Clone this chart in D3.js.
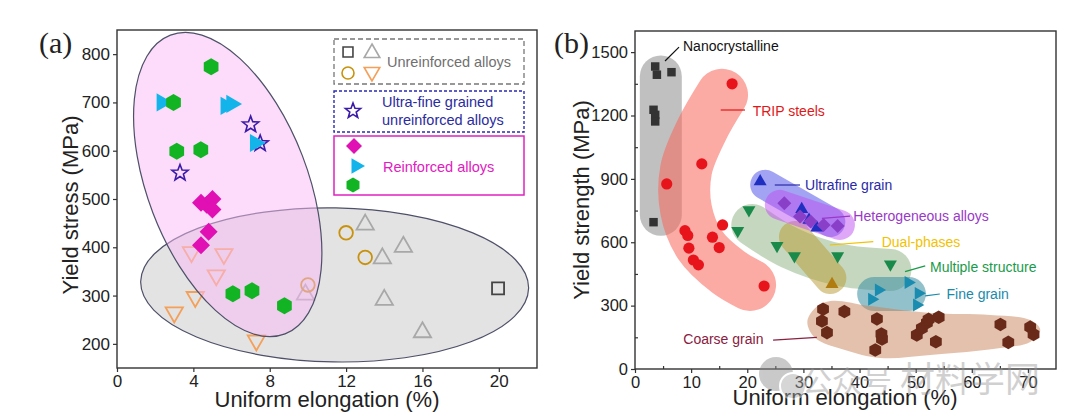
<!DOCTYPE html>
<html>
<head>
<meta charset="utf-8">
<script src="https://cdn.jsdelivr.net/npm/d3@7"></script>
<style>
  body { margin: 0; background: #fff; }
  text { font-family: "Liberation Sans", Arial, sans-serif; }
</style>
</head>
<body>
<div id="chart"></div>
<script>
// ---------- panel (a) data : [uniform elongation %, yield stress MPa]
unrSquare   = [[19.96, 315]]
unrTriUp    = [[9.87, 302], [13.0, 447], [13.9, 377], [15.0, 401], [14.0, 291], [16.0, 224]]
unrCircle   = [[10.0, 322], [12.0, 430], [13.0, 379]]
unrTriDown  = [[3.9, 390], [5.6, 386], [5.2, 342], [4.1, 297], [3.0, 265], [7.3, 207]]
ufgStar     = [[7.0, 654], [7.5, 615], [3.3, 554]]
reDiamond   = [[4.4, 492], [4.7, 488], [5.0, 500], [5.0, 478], [4.8, 432], [4.4, 404]]
reTriRight  = [[2.35, 700], [5.7, 693], [6.0, 697], [7.24, 616]]
reHexagon   = [[4.93, 774], [2.96, 700], [3.13, 599], [4.39, 602], [6.07, 304], [7.07, 310], [8.77, 279]]
xTicksA = [0, 4, 8, 12, 16, 20]
yTicksA = [200, 300, 400, 500, 600, 700, 800]

// ---------- panel (b) data : [uniform elongation %, yield strength MPa]
nanoSq    = [[3.6, 1432], [3.9, 1393], [6.5, 1405], [3.3, 1227], [3.6, 1203], [3.6, 1172], [3.3, 695]]
tripCirc  = [[17.3, 1350], [11.9, 971], [5.65, 876], [15.6, 682], [8.9, 655], [9.4, 632], [13.8, 624],
             [9.6, 572], [15.0, 575], [10.4, 516], [11.3, 493], [23.0, 393]]
ufTri     = [[22.3, 887], [29.7, 756], [31.0, 705], [32.4, 669]]
hetDia    = [[26.6, 785], [29.4, 722], [31.3, 698], [33.6, 682], [36.1, 677]]
dualTri   = [[35.1, 401]]
multiTri  = [[20.3, 753], [18.3, 655], [25.3, 583], [28.4, 535], [36.1, 535], [45.5, 496]]
fineTri   = [[43.4, 374], [42.2, 330], [48.7, 409], [50.5, 358], [50.2, 303]]
coarseHex = [[33.5, 283], [33.3, 227], [34.2, 172], [37.3, 272], [43.1, 237], [43.9, 166], [44.0, 142],
             [42.8, 90], [50.2, 161], [51.1, 193], [52.0, 219], [52.3, 235], [54.1, 245], [53.6, 129],
             [65.1, 211], [66.5, 126], [70.4, 198], [71.0, 164]]
xTicksB = [0, 10, 20, 30, 40, 50, 60, 70]
yTicksB = [0, 300, 600, 900, 1200, 1500]

// shaded regions of panel (b), centre lines in data units
nanoBand   = [[4.6, 1385], [4.6, 730]]
tripBand   = [[15.5, 1298], [11.9, 1132], [9.1, 943], [9.1, 753], [11.6, 587], [16.6, 459], [20.5, 398]]
ufBand     = [[23.2, 872], [34.8, 696]]
hetBand    = [[25.8, 777], [36.5, 682]]
dualBand   = [[28.5, 625], [34.8, 431]]
multiBand  = [[20.9, 682], [27.6, 573], [36.5, 493], [45.5, 469]]
fineBand   = [[42.6, 355], [48.8, 355]]
coarseOutline = [[30.7, 223], [32.1, 289], [34.8, 322], [41.9, 298], [52.6, 265], [63.3, 256], [70.4, 232],
                 [72.2, 185], [70.4, 128], [65.1, 99], [52.6, 66], [43.7, 52], [37.4, 90], [32.1, 147]]

const svg = d3.select('#chart').append('svg')
    .attr('width', 1080)
    .attr('height', 420)
    .style('background', '#fff')

// marker shapes, r = outer radius in px
function markerPath(shape, r) {
  function poly(n, rot) {
    return 'M' + d3.range(n).map(function(i) {
      var a = rot + i * 2 * Math.PI / n
      return [r * Math.sin(a), -r * Math.cos(a)]
    }).join('L') + 'Z'
  }
  if (shape == 'triUp') return poly(3, 0)
  if (shape == 'triDown') return poly(3, Math.PI)
  if (shape == 'triRight') return poly(3, Math.PI / 2)
  if (shape == 'hex') return poly(6, 0)
  if (shape == 'diamond') return poly(4, 0)
  if (shape == 'square') return poly(4, Math.PI / 4)
  if (shape == 'circle') return d3.symbol(d3.symbolCircle, Math.PI * r * r)()
  if (shape == 'star') {
    return 'M' + d3.range(10).map(function(i) {
      var a = i * Math.PI / 5, rr = i % 2 ? r * 0.42 : r
      return [rr * Math.sin(a), -rr * Math.cos(a)]
    }).join('L') + 'Z'
  }
}

function drawPts(g, data, x, y, shape, r, fill, stroke, sw) {
  g.append('g').selectAll('path')
    .data(data)
    .join('path')
    .attr('d', markerPath(shape, r))
    .attr('transform', function(d) { return 'translate(' + x(d[0]) + ',' + y(d[1]) + ')' })
    .style('fill', fill)
    .style('stroke', stroke)
    .style('stroke-width', sw)
}

function styleAxis(g, size) {
  g.select('.domain').remove()
  g.selectAll('line').style('stroke', '#333').style('stroke-width', 1.2)
  g.selectAll('text').style('font-size', (size || 16.5) + 'px').style('fill', '#222')
    .style('font-family', '"Liberation Sans", Arial, sans-serif')
}

// ================= panel (a)
xa = d3.scaleLinear().domain([0, 22]).range([117, 537])
ya = d3.scaleLinear().domain([150, 850]).range([368, 30])

const ga = svg.append('g')

ga.append('defs').append('clipPath').attr('id', 'clipA')
  .append('rect').attr('x', 117).attr('y', 30).attr('width', 420).attr('height', 338)

const gaIn = ga.append('g').attr('clip-path', 'url(#clipA)')

// grey ellipse (unreinforced)
gaIn.append('ellipse')
    .attr('cx', 0).attr('cy', 0).attr('rx', 194).attr('ry', 77)
    .attr('transform', 'translate(' + xa(11.4) + ',' + ya(322) + ') rotate(1)')
    .style('fill', '#e3e3e3')
    .style('stroke', '#4d5068')
    .style('stroke-width', 1.2)

drawPts(gaIn, unrSquare, xa, ya, 'square', 8.5, 'none', '#444', 1.8)
drawPts(gaIn, unrTriUp, xa, ya, 'triUp', 10, 'none', '#a8a8a8', 1.8)
drawPts(gaIn, unrCircle, xa, ya, 'circle', 6.8, 'none', '#c8920c', 1.8)
drawPts(gaIn, unrTriDown, xa, ya, 'triDown', 10, 'none', '#f4a05a', 1.8)

// pink ellipse (reinforced)
gaIn.append('ellipse')
    .attr('cx', 0).attr('cy', 0).attr('rx', 80).attr('ry', 160)
    .attr('transform', 'translate(' + xa(5.8) + ',' + ya(530) + ') rotate(-21)')
    .style('fill', 'rgb(249,186,245)')
    .style('fill-opacity', 0.5)
    .style('stroke', '#4d5068')
    .style('stroke-width', 1.2)

drawPts(gaIn, ufgStar, xa, ya, 'star', 8.5, 'none', '#3a1aa8', 1.6)
drawPts(gaIn, reDiamond, xa, ya, 'diamond', 9, '#e010b4', 'none', 0)
drawPts(gaIn, reTriRight, xa, ya, 'triRight', 10.5, '#12b4ea', 'none', 0)
drawPts(gaIn, reHexagon, xa, ya, 'hex', 8.5, '#12b424', 'none', 0)

ga.append('g').attr('transform', 'translate(0,368)')
  .call(d3.axisBottom(xa).tickValues(xTicksA).tickSize(4).tickPadding(3))
  .call(styleAxis, 17)
ga.append('g').attr('transform', 'translate(117,0)')
  .call(d3.axisLeft(ya).tickValues(yTicksA).tickSize(4).tickPadding(3))
  .call(styleAxis, 17)

ga.append('rect').attr('x', 117).attr('y', 30).attr('width', 420).attr('height', 338)
  .style('fill', 'none').style('stroke', '#333').style('stroke-width', 1.4)

// legend (a)
ga.append('rect').attr('x', 334).attr('y', 39).attr('width', 190).attr('height', 45)
  .style('fill', 'none').style('stroke', '#777').style('stroke-width', 1.3).style('stroke-dasharray', '5,3')
ga.append('rect').attr('x', 334).attr('y', 91).attr('width', 190).attr('height', 41)
  .style('fill', 'none').style('stroke', '#2b2bb0').style('stroke-width', 1.4).style('stroke-dasharray', '3,2')
ga.append('rect').attr('x', 334).attr('y', 136).attr('width', 190).attr('height', 59)
  .style('fill', 'none').style('stroke', '#e020c0').style('stroke-width', 1.5)

legendA = [
  {shape: 'square', x: 348, y: 52, r: 7, fill: 'none', stroke: '#444'},
  {shape: 'triUp', x: 372, y: 53, r: 9, fill: 'none', stroke: '#a8a8a8'},
  {shape: 'circle', x: 348, y: 73, r: 6, fill: 'none', stroke: '#c8920c'},
  {shape: 'triDown', x: 372, y: 72, r: 9, fill: 'none', stroke: '#f4a05a'},
  {shape: 'star', x: 353, y: 111, r: 8, fill: 'none', stroke: '#3a1aa8'},
  {shape: 'diamond', x: 354, y: 146, r: 8, fill: '#e010b4', stroke: 'none'},
  {shape: 'triRight', x: 356, y: 166, r: 9, fill: '#12b4ea', stroke: 'none'},
  {shape: 'hex', x: 353, y: 185, r: 7.5, fill: '#12b424', stroke: 'none'}
]
ga.selectAll('.lg')
  .data(legendA)
  .join('path')
  .attr('class', 'lg')
  .attr('d', function(d) { return markerPath(d.shape, d.r) })
  .attr('transform', function(d) { return 'translate(' + d.x + ',' + d.y + ')' })
  .style('fill', function(d) { return d.fill })
  .style('stroke', function(d) { return d.stroke })
  .style('stroke-width', 1.6)

legendTextA = [
  {t: 'Unreinforced alloys', x: 387, y: 67, c: '#707070'},
  {t: 'Ultra-fine grained', x: 382, y: 107, c: '#2b2ba0'},
  {t: 'unreinforced alloys', x: 382, y: 125, c: '#2b2ba0'},
  {t: 'Reinforced alloys', x: 383, y: 172, c: '#e020c0'}
]
ga.selectAll('.lt')
  .data(legendTextA)
  .join('text')
  .attr('class', 'lt')
  .attr('x', function(d) { return d.x })
  .attr('y', function(d) { return d.y })
  .style('font-size', '14.5px')
  .style('fill', function(d) { return d.c })
  .text(function(d) { return d.t })

ga.append('text').attr('x', 327).attr('y', 407).attr('text-anchor', 'middle')
  .style('font-size', '22px').style('fill', '#222').text('Uniform elongation (%)')
ga.append('text').attr('transform', 'translate(78,205) rotate(-90)').attr('text-anchor', 'middle')
  .style('font-size', '22px').style('fill', '#222').text('Yield stress (MPa)')
ga.append('text').attr('x', 39).attr('y', 53)
  .style('font-family', '"Liberation Serif", "Times New Roman", serif')
  .style('font-size', '30px').style('fill', '#222').text('(a)')

// ================= panel (b)
xb = d3.scaleLinear().domain([0, 75]).range([635, 1056])
yb = d3.scaleLinear().domain([0, 1600]).range([369, 31])

const gb = svg.append('g')

band = d3.line()
  .x(function(d) { return xb(d[0]) })
  .y(function(d) { return yb(d[1]) })
  .curve(d3.curveCatmullRom)

bands = [
  {pts: nanoBand, w: 42, c: '#8c8c8c', o: 0.55},
  {pts: tripBand, w: 52, c: '#f8645a', o: 0.55},
  {pts: multiBand, w: 42, c: '#7fa870', o: 0.45},
  {pts: dualBand, w: 32, c: '#b89a30', o: 0.5},
  {pts: ufBand, w: 30, c: '#4848e8', o: 0.5},
  {pts: hetBand, w: 30, c: '#c050f0', o: 0.5},
  {pts: fineBand, w: 34, c: '#3a8ea0', o: 0.55}
]
gb.selectAll('.band')
  .data(bands)
  .join('path')
  .attr('class', 'band')
  .attr('d', function(d) { return band(d.pts) })
  .style('fill', 'none')
  .style('stroke', function(d) { return d.c })
  .style('stroke-opacity', function(d) { return d.o })
  .style('stroke-width', function(d) { return d.w })
  .style('stroke-linecap', 'round')
  .style('stroke-linejoin', 'round')

gb.append('path')
  .attr('d', d3.line().x(function(d) { return xb(d[0]) }).y(function(d) { return yb(d[1]) })
    .curve(d3.curveCatmullRomClosed)(coarseOutline))
  .style('fill', '#c8845a')
  .style('fill-opacity', 0.5)

drawPts(gb, nanoSq, xb, yb, 'square', 6, '#333', 'none', 0)
drawPts(gb, tripCirc, xb, yb, 'circle', 5.6, '#e8141c', 'none', 0)
drawPts(gb, multiTri, xb, yb, 'triDown', 7.5, '#1a8a4a', 'none', 0)
drawPts(gb, dualTri, xb, yb, 'triUp', 7.5, '#b07c10', 'none', 0)
drawPts(gb, ufTri, xb, yb, 'triUp', 7.5, '#1f2fbf', 'none', 0)
drawPts(gb, hetDia, xb, yb, 'diamond', 7, '#8a3fc8', 'none', 0)
drawPts(gb, fineTri, xb, yb, 'triRight', 7.5, '#1a8caf', 'none', 0)
drawPts(gb, coarseHex, xb, yb, 'hex', 6.8, '#6a2a1a', 'none', 0)

// region labels: text start, leader from, leader to (data units)
labelsB = [
  {t: 'Nanocrystalline', at: [8.55, 1505], l: [[5.35, 1458], [7.84, 1524]], c: '#111'},
  {t: 'TRIP steels', at: [20.97, 1198], l: [[15.27, 1226], [19.6, 1226]], c: '#e01818'},
  {t: 'Ultrafine grain', at: [30.3, 847], l: [[24.9, 871], [29.4, 871]], c: '#2a2aa8'},
  {t: 'Heterogeneous alloys', at: [38.9, 700], l: [[33.3, 713], [38.3, 724]], c: '#9a38c8'},
  {t: 'Dual-phases', at: [43.95, 579], l: [[34.7, 587], [42.45, 603]], c: '#f2c200'},
  {t: 'Multiple structure', at: [52.55, 461], l: [[48.1, 461], [51.7, 488]], c: '#1a9a4a'},
  {t: 'Fine grain', at: [55.5, 331], l: [[51.7, 346], [54.3, 355]], c: '#1a8aaa'},
  {t: 'Coarse grain', at: [8.6, 117], l: [[24.6, 137], [32.4, 150]], c: '#8a2040'}
]
gb.selectAll('.lead')
  .data(labelsB)
  .join('line')
  .attr('class', 'lead')
  .attr('x1', function(d) { return xb(d.l[0][0]) })
  .attr('y1', function(d) { return yb(d.l[0][1]) })
  .attr('x2', function(d) { return xb(d.l[1][0]) })
  .attr('y2', function(d) { return yb(d.l[1][1]) })
  .style('stroke', function(d) { return d.c })
  .style('stroke-width', 1.2)
gb.selectAll('.lab')
  .data(labelsB)
  .join('text')
  .attr('class', 'lab')
  .attr('x', function(d) { return xb(d.at[0]) })
  .attr('y', function(d) { return yb(d.at[1]) })
  .style('font-size', '14px')
  .style('fill', function(d) { return d.c })
  .text(function(d) { return d.t })

// axes (b): major outward, minor inward
gb.append('g').attr('transform', 'translate(0,369)')
  .call(d3.axisBottom(xb).tickValues(xTicksB).tickSize(4).tickPadding(3))
  .call(styleAxis)
gb.append('g').attr('transform', 'translate(635,0)')
  .call(d3.axisLeft(yb).tickValues(yTicksB).tickFormat(d3.format('d')).tickSize(4).tickPadding(3))
  .call(styleAxis)
gb.append('g').attr('transform', 'translate(0,369)')
  .call(d3.axisTop(xb).tickValues(d3.range(5, 75, 10)).tickSize(3).tickFormat(''))
  .call(styleAxis)
gb.append('g').attr('transform', 'translate(635,0)')
  .call(d3.axisRight(yb).tickValues(d3.range(150, 1600, 300)).tickSize(3).tickFormat(''))
  .call(styleAxis)

gb.append('rect').attr('x', 635).attr('y', 31).attr('width', 421).attr('height', 338)
  .style('fill', 'none').style('stroke', '#333').style('stroke-width', 1.4)

gb.append('text').attr('x', 845).attr('y', 405).attr('text-anchor', 'middle')
  .style('font-size', '22px').style('fill', '#222').text('Uniform elongation (%)')
gb.append('text').attr('transform', 'translate(589,200) rotate(-90)').attr('text-anchor', 'middle')
  .style('font-size', '22px').style('fill', '#222').text('Yield strength (MPa)')
gb.append('text').attr('x', 554).attr('y', 53)
  .style('font-family', '"Liberation Serif", "Times New Roman", serif')
  .style('font-size', '30px').style('fill', '#222').text('(b)')

// watermark
const wm = svg.append('g').style('opacity', 0.45)
wm.append('circle').attr('cx', 776).attr('cy', 374).attr('r', 17).style('fill', '#8a8a8a')
wm.append('circle').attr('cx', 793).attr('cy', 386).attr('r', 13).style('fill', '#a5a5a5')
  .style('stroke', '#fff').style('stroke-width', 2)
wm.append('text').attr('x', 802).attr('y', 392)
  .style('font-family', '"Noto Sans CJK SC", sans-serif').style('font-size', '30px')
  .style('fill', '#999').text('公众号')
wm.append('text').attr('x', 900).attr('y', 392)
  .style('font-family', '"Noto Sans CJK SC", sans-serif').style('font-size', '35px')
  .style('fill', '#999').text('材料学网')
</script>
</body>
</html>
